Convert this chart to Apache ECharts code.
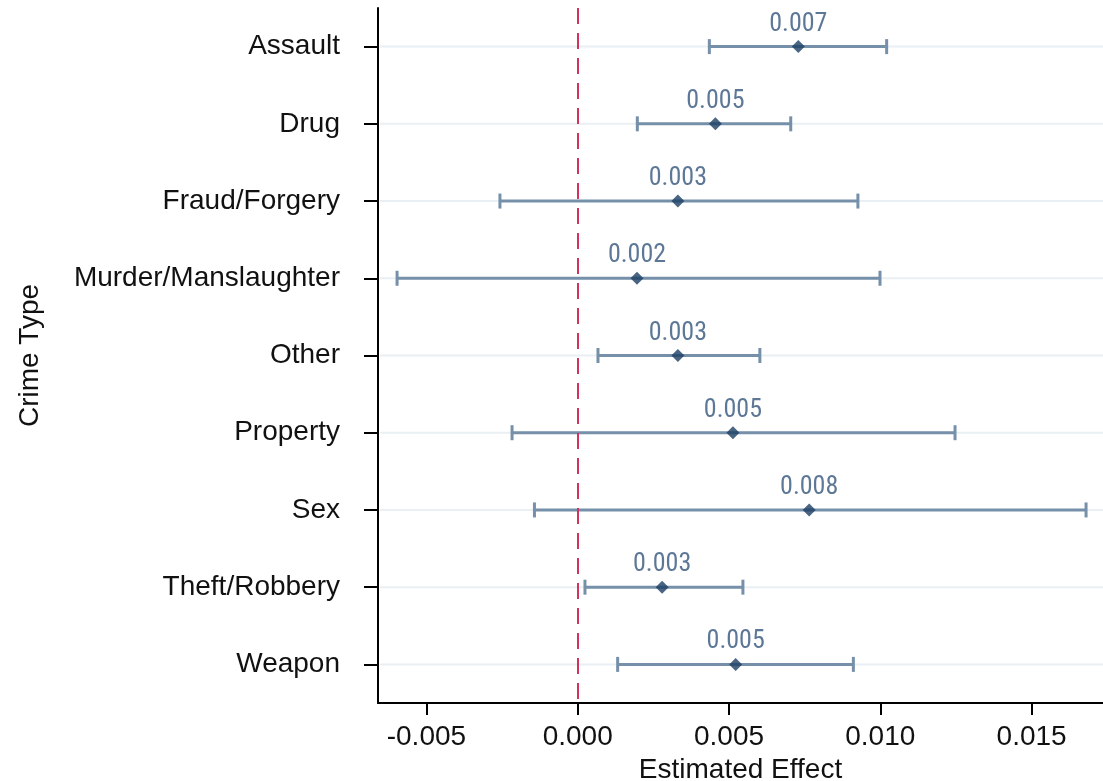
<!DOCTYPE html>
<html><head><meta charset="utf-8">
<script src="https://cdn.jsdelivr.net/npm/echarts@6/dist/echarts.min.js"></script>
<style>html,body{margin:0;padding:0;background:#fff}#c{width:1103px;height:781px}</style>
</head><body><div id="c"></div>
<script>
const categories = ["Assault","Drug","Fraud/Forgery","Murder/Manslaughter","Other","Property","Sex","Theft/Robbery","Weapon"];
const estimates = [0.00729,0.00455,0.00331,0.00196,0.00331,0.00513,0.00765,0.00279,0.00522];
const lowerCI  = [0.00435,0.00197,-0.00257,-0.00597,0.00067,-0.00217,-0.00143,0.00024,0.00132];
const upperCI  = [0.01021,0.00704,0.00926,0.00999,0.00602,0.01247,0.01680,0.00546,0.00911];
const xTicks = [-0.005,0,0.005,0.010,0.015];

const FONT = 'Liberation Sans, Arial, sans-serif';
const chart = echarts.init(document.getElementById('c'));
const ciData = categories.map((c,i)=>[lowerCI[i],upperCI[i],i]);
const ptData = categories.map((c,i)=>[estimates[i],i]);
chart.setOption({
  animation:false,
  grid:{left:378,right:0,top:8,bottom:78,containLabel:false,outerBoundsMode:'none'},
  xAxis:{type:'value',min:-0.0066,max:0.01736,
    name:'Estimated Effect',nameLocation:'middle',nameGap:51,
    nameTextStyle:{fontSize:28,color:'#111',fontFamily:FONT},
    axisLine:{show:true,onZero:false,lineStyle:{color:'#000',width:2}},
    axisTick:{show:true,length:12,customValues:xTicks,lineStyle:{color:'#000',width:2}},
    axisLabel:{customValues:xTicks,margin:20,fontSize:28,color:'#111',fontFamily:FONT,
      formatter:v=>v.toFixed(3)},
    splitLine:{show:false}},
  yAxis:{type:'category',data:categories,inverse:true,
    name:'Crime Type',nameLocation:'middle',nameGap:334,nameRotate:90,
    nameTextStyle:{fontSize:28,color:'#111',fontFamily:FONT},
    axisLine:{show:true,onZero:false,lineStyle:{color:'#000',width:2}},
    axisTick:{show:true,alignWithLabel:true,length:14,lineStyle:{color:'#000',width:2}},
    axisLabel:{margin:38,fontSize:28,color:'#111',fontFamily:FONT},
    splitLine:{show:false}},
  series:[
    {type:'custom',data:ciData,z:2,
     renderItem:(params,api)=>{
       const lo=api.coord([api.value(0),api.value(2)]);
       const hi=api.coord([api.value(1),api.value(2)]);
       const cs=params.coordSys;
       const y=lo[1];
       const st={stroke:'#7690aa',lineWidth:3};
       return {type:'group',children:[
         {type:'line',z2:0,shape:{x1:cs.x+2,y1:y,x2:cs.x+cs.width,y2:y},style:{stroke:'#e9eff3',lineWidth:2}},
         {type:'line',z2:1,shape:{x1:lo[0],y1:y,x2:hi[0],y2:y},style:st},
         {type:'line',z2:1,shape:{x1:lo[0],y1:y-7.5,x2:lo[0],y2:y+7.5},style:st},
         {type:'line',z2:1,shape:{x1:hi[0],y1:y-7.5,x2:hi[0],y2:y+7.5},style:st}
       ]};
     },
     encode:{x:[0,1],y:2}},
    {type:'scatter',data:ptData,z:3,symbol:'diamond',symbolSize:[13,13],
     itemStyle:{color:'#1c3f64'},
     label:{show:true,position:'top',distance:3,fontSize:26,color:'#34557c',
       fontFamily:'Liberation Sans Narrow, Roboto Condensed, Liberation Sans',
       formatter:p=>p.value[0].toFixed(3)},
     markLine:{silent:true,symbol:'none',label:{show:false},
       lineStyle:{color:'#d2335c',type:[16,9],width:2},
       data:[{xAxis:0}]}}
  ]
});
</script></body></html>
